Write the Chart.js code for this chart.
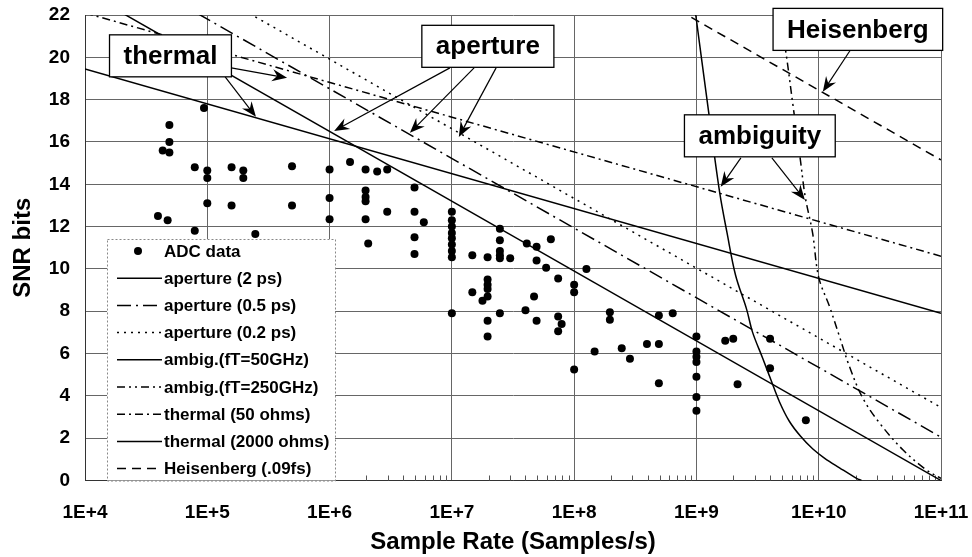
<!DOCTYPE html>
<html>
<head>
<meta charset="utf-8">
<script src="https://cdn.jsdelivr.net/npm/chart.js@4/dist/chart.umd.min.js"></script>
<style>
  html, body { margin: 0; padding: 0; background: #fff; }
</style>
</head>
<body>
<canvas id="grafico" width="972" height="557"></canvas>
<script>
// ADC data (sample rate, SNR bits)
const taxaADC = [
  3.95e4, 4.32e4, 4.74e4, 4.9e4, 4.9e4, 4.9e4,
  7.9e4, 7.9e4, 9.4e4, 1e5, 1e5, 1e5,
  1.58e5, 1.58e5, 1.97e5, 1.97e5, 2.47e5,
  4.93e5, 4.93e5, 1e6, 1e6, 1e6, 1.47e6,
  1.97e6, 1.97e6, 1.97e6, 1.97e6, 1.97e6, 2.07e6,
  2.45e6, 2.96e6, 2.96e6,
  4.95e6, 4.95e6, 4.95e6, 4.95e6, 5.9e6,
  1e7, 1e7, 1e7, 1e7, 1e7, 1e7, 1e7, 1e7, 1e7,
  1.47e7, 1.47e7, 1.78e7,
  1.96e7, 1.96e7, 1.96e7, 1.96e7, 1.96e7, 1.96e7, 1.96e7,
  2.47e7, 2.47e7, 2.47e7, 2.47e7, 2.47e7, 2.47e7,
  3.0e7, 4.0e7, 4.1e7, 4.7e7, 4.93e7, 4.93e7, 4.93e7,
  5.9e7, 6.45e7, 7.4e7, 7.4e7, 7.9e7, 7.4e7,
  1e8, 1e8, 1e8, 1.26e8, 1.47e8,
  1.96e8, 1.96e8, 2.45e8, 2.86e8,
  3.94e8, 4.93e8, 4.93e8, 6.4e8, 4.93e8,
  1e9, 1e9, 1e9, 1e9, 1e9, 1e9, 1e9,
  1.72e9, 2.0e9, 2.17e9, 4e9, 4e9, 7.85e9
];
const bitsADC = [
  12.5, 15.6, 12.3, 16.8, 16.0, 15.5,
  14.8, 11.8, 17.6, 14.65, 14.3, 13.1,
  14.8, 13.0, 14.65, 14.3, 11.65,
  14.85, 13.0, 14.7, 13.35, 12.35, 15.05,
  14.7, 13.7, 13.4, 13.2, 12.35, 11.2,
  14.6, 14.7, 12.7,
  13.85, 12.7, 11.5, 10.7, 12.2,
  12.7, 12.3, 12.0, 11.7, 11.45, 11.15, 10.85, 10.55, 7.9,
  10.65, 8.9, 8.5,
  10.55, 9.5, 9.25, 9.05, 8.7, 7.55, 6.8,
  11.9, 11.35, 10.85, 10.65, 10.5, 7.9,
  10.5, 8.05, 11.2, 8.7, 11.05, 10.4, 7.55,
  10.05, 11.4, 9.55, 7.75, 7.4, 7.05,
  9.25, 8.9, 5.25, 10.0, 6.1,
  7.95, 7.6, 6.25, 5.75,
  6.45, 6.45, 7.8, 7.9, 4.6,
  6.8, 6.1, 5.85, 5.6, 4.9, 3.95, 3.3,
  6.6, 6.7, 4.55, 6.7, 5.3, 2.85
];

// limit lines
const taxaAbertura2ps = [1e4, 1e11];
const bitsAbertura2ps = [23.1, 0];
const taxaAbertura05ps = [1e4, 1e11];
const bitsAbertura05ps = [25.1, 2.05];
const taxaAbertura02ps = [1e4, 1e11];
const bitsAbertura02ps = [26.5, 3.45];

const taxaAmbig50 = [9.77e8, 1.26e9, 1.55e9, 1.78e9, 2.09e9, 2.57e9, 2.88e9, 3.47e9, 4.07e9, 4.79e9, 5.75e9, 7.08e9, 8.91e9, 1.12e10, 1.48e10, 2.04e10, 2.24e10];
const bitsAmbig50 = [22.2, 17.4, 13.6, 11.7, 9.7, 8.1, 7.0, 5.8, 4.75, 3.7, 2.8, 2.1, 1.5, 1.05, 0.6, 0.1, 0];
const taxaAmbig250 = [4.79e9, 5.37e9, 6.17e9, 7.08e9, 7.76e9, 8.91e9, 1e10, 1.23e10, 1.48e10, 1.78e10, 2.29e10, 3.16e10, 4.9e10, 7.59e10, 1e11];
const bitsAmbig250 = [22.0, 20.3, 17.7, 15.15, 13.4, 11.7, 9.6, 8.2, 6.8, 5.4, 3.9, 2.7, 1.44, 0.5, 0.1];

const taxaTermica50 = [1e4, 1e11];
const bitsTermica50 = [22.1, 10.6];
const taxaTermica2000 = [1e4, 1e11];
const bitsTermica2000 = [19.45, 7.9];

const taxaHeisenberg = [1e8, 1e11];
const bitsHeisenberg = [25.05, 15.15];

// axes
const decadas = [1e4, 1e5, 1e6, 1e7, 1e8, 1e9, 1e10, 1e11];
const rotulosDecada = ['1E+4', '1E+5', '1E+6', '1E+7', '1E+8', '1E+9', '1E+10', '1E+11'];

// callouts: text, anchor (rate, bits), arrows from -> to
const rotulos = ['thermal', 'aperture', 'Heisenberg', 'ambiguity'];
const rotuloTaxa = [5.0e4, 1.97e7, 2.09e10, 3.3e9];
const rotuloBits = [20.07, 20.52, 21.32, 16.29];
const setaTaxa0 = [1.53e5, 1.40e5, 9.64e6, 1.52e7, 2.30e7, 1.8e10, 2.31e9, 4.14e9];
const setaBits0 = [19.51, 19.08, 19.5, 19.5, 19.5, 20.31, 15.25, 15.25];
const setaTaxa1 = [4.49e5, 2.5e5, 1.09e6, 4.54e6, 1.14e7, 1.08e10, 1.58e9, 7.71e9];
const setaBits1 = [19.03, 17.19, 16.52, 16.43, 16.24, 18.37, 13.88, 13.26];

function pontos(xs, ys) {
  return xs.map((x, i) => ({ x: x, y: ys[i] }));
}

function linha(rotulo, xs, ys, tracejado, suave) {
  return {
    label: rotulo,
    data: pontos(xs, ys),
    showLine: true,
    borderColor: '#000',
    backgroundColor: '#000',
    borderWidth: 1.5,
    borderDash: tracejado,
    pointRadius: 0,
    pointHoverRadius: 0,
    tension: suave ? 0.35 : 0
  };
}

const FONTE = '"Liberation Sans", Arial, sans-serif';
Chart.defaults.font.family = FONTE;
Chart.defaults.color = '#000';

function desenharSeta(ctx, x0, y0, x1, y1) {
  const ang = Math.atan2(y1 - y0, x1 - x0);
  ctx.save();
  ctx.strokeStyle = '#000';
  ctx.fillStyle = '#000';
  ctx.lineWidth = 1.2;
  ctx.setLineDash([]);
  ctx.beginPath();
  ctx.moveTo(x0, y0);
  ctx.lineTo(x1 - 6 * Math.cos(ang), y1 - 6 * Math.sin(ang));
  ctx.stroke();
  ctx.translate(x1, y1);
  ctx.rotate(ang);
  ctx.beginPath();
  ctx.moveTo(0, 0);
  ctx.lineTo(-15, -6);
  ctx.lineTo(-10, 0);
  ctx.lineTo(-15, 6);
  ctx.closePath();
  ctx.fill();
  ctx.restore();
}

const extras = {
  id: 'extras',
  beforeDatasetsDraw(chart) {
    // small minor ticks along the bottom
    const ctx = chart.ctx;
    const sx = chart.scales.x;
    const area = chart.chartArea;
    ctx.save();
    ctx.strokeStyle = '#555';
    ctx.lineWidth = 1;
    for (let d = 0; d < decadas.length - 1; d++) {
      for (let m = 2; m <= 9; m++) {
        const px = Math.round(sx.getPixelForValue(decadas[d] * m)) + 0.5;
        ctx.beginPath();
        ctx.moveTo(px, area.bottom);
        ctx.lineTo(px, area.bottom - 5);
        ctx.stroke();
      }
    }
    ctx.restore();
  },
  afterDatasetsDraw(chart) {
    const ctx = chart.ctx;
    const sx = chart.scales.x;
    const sy = chart.scales.y;
    const area = chart.chartArea;

    // arrows
    for (let i = 0; i < setaTaxa0.length; i++) {
      desenharSeta(ctx,
        sx.getPixelForValue(setaTaxa0[i]), sy.getPixelForValue(setaBits0[i]),
        sx.getPixelForValue(setaTaxa1[i]), sy.getPixelForValue(setaBits1[i]));
    }

    // callout boxes
    ctx.save();
    ctx.font = 'bold 26px ' + FONTE;
    ctx.textAlign = 'center';
    ctx.textBaseline = 'middle';
    rotulos.forEach((txt, i) => {
      const cx = sx.getPixelForValue(rotuloTaxa[i]);
      const cy = sy.getPixelForValue(rotuloBits[i]);
      const w = ctx.measureText(txt).width + 28;
      const h = 42;
      ctx.fillStyle = '#fff';
      ctx.fillRect(cx - w / 2, cy - h / 2, w, h);
      ctx.strokeStyle = '#000';
      ctx.lineWidth = 1.3;
      ctx.strokeRect(cx - w / 2, cy - h / 2, w, h);
      ctx.fillStyle = '#000';
      ctx.fillText(txt, cx, cy + 1);
    });
    ctx.restore();

    // legend inside the plot
    const esq = area.left + 22;
    const larg = 228;
    const topo = 239;
    const alt = area.bottom - topo;
    ctx.save();
    ctx.fillStyle = '#fff';
    ctx.fillRect(esq, topo, larg, alt);
    ctx.strokeStyle = '#888';
    ctx.lineWidth = 1;
    ctx.setLineDash([2, 2]);
    ctx.strokeRect(esq + 0.5, topo + 0.5, larg, alt);
    ctx.font = 'bold 17px ' + FONTE;
    ctx.textBaseline = 'middle';
    ctx.textAlign = 'left';
    chart.data.datasets.forEach((ds, i) => {
      const y = topo + 12 + i * 27.2;
      if (ds.showLine) {
        ctx.strokeStyle = '#000';
        ctx.lineWidth = ds.borderWidth;
        ctx.setLineDash(ds.borderDash || []);
        ctx.beginPath();
        ctx.moveTo(esq + 10, y);
        ctx.lineTo(esq + 55, y);
        ctx.stroke();
      } else {
        ctx.fillStyle = '#000';
        ctx.beginPath();
        ctx.arc(esq + 31, y, 4, 0, Math.PI * 2);
        ctx.fill();
      }
      ctx.setLineDash([]);
      ctx.fillStyle = '#000';
      ctx.fillText(ds.label, esq + 57, y + 1);
    });
    ctx.restore();
  }
};

new Chart(document.getElementById('grafico'), {
  type: 'scatter',
  data: {
    datasets: [
      {
        label: 'ADC data',
        data: pontos(taxaADC, bitsADC),
        showLine: false,
        pointRadius: 4,
        pointHoverRadius: 4,
        pointBackgroundColor: '#000',
        pointBorderWidth: 0,
        borderColor: '#000'
      },
      linha('aperture (2 ps)', taxaAbertura2ps, bitsAbertura2ps, [], false),
      linha('aperture (0.5 ps)', taxaAbertura05ps, bitsAbertura05ps, [14, 5, 2, 5], false),
      linha('aperture (0.2 ps)', taxaAbertura02ps, bitsAbertura02ps, [2, 5], false),
      linha('ambig.(fT=50GHz)', taxaAmbig50, bitsAmbig50, [], true),
      linha('ambig.(fT=250GHz)', taxaAmbig250, bitsAmbig250, [8, 4, 2, 4, 2, 4], true),
      linha('thermal (50 ohms)', taxaTermica50, bitsTermica50, [8, 4, 2, 4], false),
      linha('thermal (2000 ohms)', taxaTermica2000, bitsTermica2000, [], false),
      linha('Heisenberg (.09fs)', taxaHeisenberg, bitsHeisenberg, [9, 6], false)
    ]
  },
  options: {
    responsive: false,
    animation: false,
    layout: { padding: { top: 15, right: 31, bottom: 0, left: 0 } },
    plugins: {
      legend: { display: false },
      tooltip: { enabled: false }
    },
    scales: {
      x: {
        type: 'logarithmic',
        min: 1e4,
        max: 1e11,
        afterBuildTicks: s => { s.ticks = decadas.map(v => ({ value: v })); },
        afterFit: s => { s.height = 76.5; s.paddingLeft = 0; s.paddingRight = 0; },
        ticks: {
          autoSkip: false,
          maxRotation: 0,
          padding: 21,
          color: '#000',
          font: { size: 19, weight: 'bold' },
          callback: (v) => rotulosDecada[decadas.indexOf(v)]
        },
        grid: { color: '#666', lineWidth: 1, drawTicks: false },
        border: { color: '#333' },
        title: {
          display: true,
          text: 'Sample Rate (Samples/s)',
          color: '#000',
          font: { size: 24, weight: 'bold' },
          padding: { top: 0, bottom: 0 }
        }
      },
      y: {
        min: 0,
        max: 22,
        afterFit: s => { s.width = 85; s.paddingTop = 0; s.paddingBottom = 0; },
        ticks: {
          stepSize: 2,
          padding: 15,
          color: '#000',
          font: { size: 19, weight: 'bold' }
        },
        grid: { color: '#666', lineWidth: 1, drawTicks: false },
        border: { color: '#333' },
        title: {
          display: true,
          text: 'SNR bits',
          color: '#000',
          font: { size: 24, weight: 'bold' },
          padding: { top: 9, bottom: 0 }
        }
      }
    }
  },
  plugins: [extras]
});
</script>
</body>
</html>
